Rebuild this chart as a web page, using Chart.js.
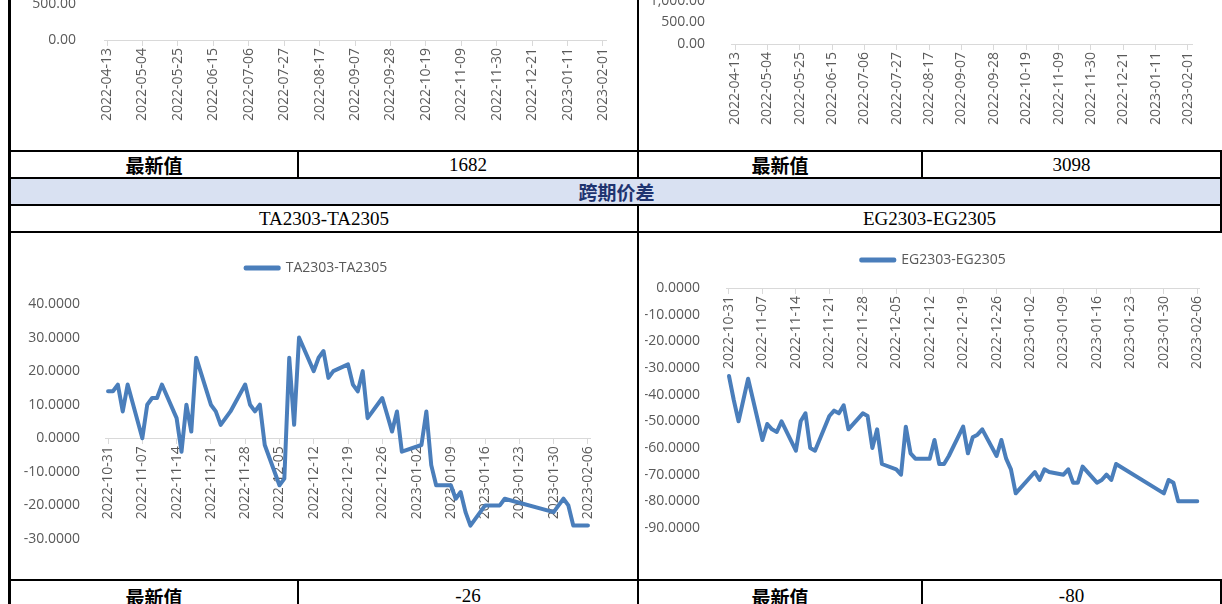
<!DOCTYPE html>
<html><head><meta charset="utf-8">
<script src="https://cdn.jsdelivr.net/npm/chart.js@4.4.0/dist/chart.umd.min.js"></script>
<style>
html,body{margin:0;padding:0;width:1222px;height:604px;overflow:hidden;background:#fff;position:relative}
.hl{position:absolute;background:#000;height:2px;z-index:5}
.vl{position:absolute;background:#000;width:2px;z-index:5}
.cell{position:absolute;display:flex;align-items:center;justify-content:center;white-space:nowrap;z-index:4}
.cn{font-family:"Noto Sans CJK SC";font-weight:700;font-size:19px;color:#000}
.num{font-family:"Liberation Serif";font-size:19px;color:#000}
canvas{position:absolute}
</style></head><body>

<canvas id="c1" width="627" height="410" style="left:11px;top:-260px"></canvas>
<canvas id="c2" width="582" height="410" style="left:640px;top:-260px"></canvas>
<canvas id="c3" width="627" height="345" style="left:11px;top:233px"></canvas>
<canvas id="c4" width="582" height="345" style="left:640px;top:233px"></canvas>

<div style="position:absolute;left:11px;top:179px;width:1211px;height:25px;background:#D9E1F2"></div>

<div class="hl" style="left:11px;top:150px;width:1211px"></div>
<div class="hl" style="left:11px;top:177px;width:1211px"></div>
<div class="hl" style="left:11px;top:204px;width:1211px"></div>
<div class="hl" style="left:11px;top:231px;width:1211px"></div>
<div class="hl" style="left:11px;top:579px;width:1211px"></div>
<div class="vl" style="left:8px;top:0;width:3px;height:604px"></div>
<div class="vl" style="left:637px;top:0;height:179px"></div>
<div class="vl" style="left:637px;top:204px;height:400px"></div>
<div class="vl" style="left:297px;top:150px;height:29px"></div>
<div class="vl" style="left:921px;top:150px;height:29px"></div>
<div class="vl" style="left:297px;top:579px;height:25px"></div>
<div class="vl" style="left:921px;top:579px;height:25px"></div>
<div class="vl" style="left:1220px;top:150px;height:83px"></div>
<div class="vl" style="left:1220px;top:579px;height:25px"></div>

<div class="cell cn" style="left:11px;top:152px;width:286px;height:25px">最新值</div>
<div class="cell num" style="left:299px;top:152px;width:338px;height:25px">1682</div>
<div class="cell cn" style="left:639px;top:152px;width:282px;height:25px">最新值</div>
<div class="cell num" style="left:923px;top:152px;width:297px;height:25px">3098</div>
<div class="cell cn" style="left:11px;top:179px;width:1211px;height:25px;color:#1F3470">跨期价差</div>
<div class="cell num" style="left:11px;top:206px;width:626px;height:25px">TA2303-TA2305</div>
<div class="cell num" style="left:639px;top:206px;width:581px;height:25px">EG2303-EG2305</div>
<div class="cell cn" style="left:11px;top:581px;width:286px;height:30px">最新值</div>
<div class="cell num" style="left:299px;top:581px;width:338px;height:30px">-26</div>
<div class="cell cn" style="left:639px;top:581px;width:282px;height:30px">最新值</div>
<div class="cell num" style="left:923px;top:581px;width:297px;height:30px">-80</div>

<script>
// ---- data ----
const topTickLabels = ['2022-04-13','2022-05-04','2022-05-25','2022-06-15','2022-07-06','2022-07-27','2022-08-17','2022-09-07','2022-09-28','2022-10-19','2022-11-09','2022-11-30','2022-12-21','2023-01-11','2023-02-01'];
const spreadTickLabels = ['2022-10-31','2022-11-07','2022-11-14','2022-11-21','2022-11-28','2022-12-05','2022-12-12','2022-12-19','2022-12-26','2023-01-02','2023-01-09','2023-01-16','2023-01-23','2023-01-30','2023-02-06'];
const tradeDates = [
 '2022-10-31','2022-11-01','2022-11-02','2022-11-03','2022-11-04',
 '2022-11-07','2022-11-08','2022-11-09','2022-11-10','2022-11-11',
 '2022-11-14','2022-11-15','2022-11-16','2022-11-17','2022-11-18',
 '2022-11-21','2022-11-22','2022-11-23','2022-11-24','2022-11-25',
 '2022-11-28','2022-11-29','2022-11-30','2022-12-01','2022-12-02',
 '2022-12-05','2022-12-06','2022-12-07','2022-12-08','2022-12-09',
 '2022-12-12','2022-12-13','2022-12-14','2022-12-15','2022-12-16',
 '2022-12-19','2022-12-20','2022-12-21','2022-12-22','2022-12-23',
 '2022-12-26','2022-12-27','2022-12-28','2022-12-29','2022-12-30',
 '2023-01-03','2023-01-04','2023-01-05','2023-01-06',
 '2023-01-09','2023-01-10','2023-01-11','2023-01-12','2023-01-13',
 '2023-01-16','2023-01-17','2023-01-18','2023-01-19','2023-01-20',
 '2023-01-30','2023-01-31','2023-02-01','2023-02-02','2023-02-03',
 '2023-02-06'];
const taSpread = [
 14,14,16,8,16,
 0,10,12,12,16,
 6,-4,10,2,24,
 10,8,4,6,8,
 16,10,8,10,-2,
 -14,-12,24,4,30,
 20,24,26,18,20,
 22,16,14,20,6,
 12,7,2,8,-4,
 -2,8,-8,-14,
 -14,-18,-16,-22,-26,
 -20,-20,-20,-20,-18,
 -22,-20,-18,-20,-26,
 -26];
const egSpread = [
 -33,-42,-50,-42,-34,
 -57,-51,-53,-54,-50,
 -61,-50,-47,-60,-61,
 -48,-46,-47,-44,-53,
 -47,-48,-60,-53,-66,
 -68,-70,-52,-62,-64,
 -64,-57,-66,-66,-63,
 -52,-62,-56,-55,-53,
 -63,-57,-64,-68,-77,
 -69,-72,-68,-69,
 -70,-68,-73,-73,-67,
 -73,-72,-70,-72,-66,
 -77,-72,-73,-80,-80,
 -80];

// ---- helpers ----
const DAY = 86400000;
const dayIndex = (s, base) => Math.round((Date.parse(s) - Date.parse(base)) / DAY);
const toPoints = (dates, vals, base) => dates.map((d, i) => ({x: dayIndex(d, base), y: vals[i]}));
const fmt2 = v => Number(v).toLocaleString('en-US', {minimumFractionDigits: 2, maximumFractionDigits: 2});
const fmt4 = v => Number(v).toFixed(4);

Chart.defaults.font.family = '"Open Sans", sans-serif';
Chart.defaults.font.size = 14;
Chart.defaults.color = '#595959';

const LINE = '#4A7EBB';

function buildChart(id, cfg) {
  const scales = {
    x: {
      type: 'linear', position: {y: 0}, min: cfg.xmin, max: cfg.xmax,
      afterBuildTicks: s => { s.ticks = cfg.ticks.map(t => ({value: dayIndex(t, cfg.base)})); },
      ticks: {autoSkip: false, minRotation: 90, maxRotation: 90, padding: 3,
              color: '#595959', font: {size: 14}, callback: (v, i) => cfg.ticks[i]},
      grid: {drawOnChartArea: false, drawTicks: true, tickLength: 5, color: '#D9D9D9'},
      border: {display: true, color: '#D9D9D9', width: 1}
    },
    y: {
      type: 'linear', position: 'left', min: cfg.ymin, max: cfg.ymax,
      ticks: {stepSize: cfg.step, padding: cfg.ypad, color: '#595959', font: {size: 14}, callback: cfg.fmt},
      grid: {display: false}, border: {display: false},
      afterFit: s => { s.width = cfg.yw; }
    }
  };
  if (cfg.rightGap) {
    scales.gap = {
      type: 'linear', position: 'right', display: true,
      ticks: {display: false}, grid: {display: false}, border: {display: false},
      afterFit: s => { s.width = cfg.rightGap; }
    };
  }
  return new Chart(document.getElementById(id), {
    type: 'line',
    data: {datasets: cfg.datasets},
    options: {
      responsive: false, animation: false, devicePixelRatio: 1,
      layout: {padding: cfg.padding},
      plugins: {
        legend: cfg.legend ? {
          display: true, position: 'top', weight: 3000,
          labels: {boxWidth: 33, boxHeight: 1, padding: 10, color: '#595959', font: {size: 14}}
        } : {display: false},
        title: cfg.spacer ? {
          display: true, text: ' ', weight: 2000,
          font: {size: 1, lineHeight: 1}, padding: {top: 0, bottom: cfg.spacer - 1}
        } : {display: false},
        tooltip: {enabled: false}
      },
      scales
    }
  });
}

const lineStyle = {borderColor: LINE, backgroundColor: LINE, borderWidth: 4, pointRadius: 0,
  tension: 0, borderJoinStyle: 'round', borderCapStyle: 'round', fill: false, xAxisID: 'x', yAxisID: 'y'};

// top-left (partially visible)
buildChart('c1', {
  datasets: [], base: '2022-04-13', ticks: topTickLabels, xmin: -1.8, xmax: 295.8,
  ymin: 0, ymax: 3000, step: 500, fmt: fmt2, yw: 93, ypad: 20,
  padding: {left: 0, right: 32, top: 84, bottom: 110}
});
// top-right (partially visible)
buildChart('c2', {
  datasets: [], base: '2022-04-13', ticks: topTickLabels, xmin: -2.6, xmax: 296.6,
  ymin: 0, ymax: 3500, step: 500, fmt: fmt2, yw: 91, ypad: 18,
  padding: {left: 0, right: 30, top: 153.5, bottom: 106}
});
// TA2303-TA2305
buildChart('c3', {
  datasets: [Object.assign({label: 'TA2303-TA2305', data: toPoints(tradeDates, taSpread, '2022-10-31')}, lineStyle)],
  base: '2022-10-31', ticks: spreadTickLabels, xmin: -0.5, xmax: 98.5,
  ymin: -30, ymax: 40, step: 10, fmt: fmt4, yw: 94.6, ypad: 17.6,
  legend: true, spacer: 19, rightGap: 31.6,
  padding: {left: 0, right: 16, top: 18, bottom: 39}
});
// EG2303-EG2305
buildChart('c4', {
  datasets: [Object.assign({label: 'EG2303-EG2305', data: toPoints(tradeDates, egSpread, '2022-10-31')}, lineStyle)],
  base: '2022-10-31', ticks: spreadTickLabels, xmin: -0.5, xmax: 98.5,
  ymin: -90, ymax: 0, step: 10, fmt: fmt4, yw: 81.6, ypad: 18.6,
  legend: true, spacer: 11, rightGap: 22.3,
  padding: {left: 5, right: 0, top: 10, bottom: 50}
});
</script>
</body></html>
